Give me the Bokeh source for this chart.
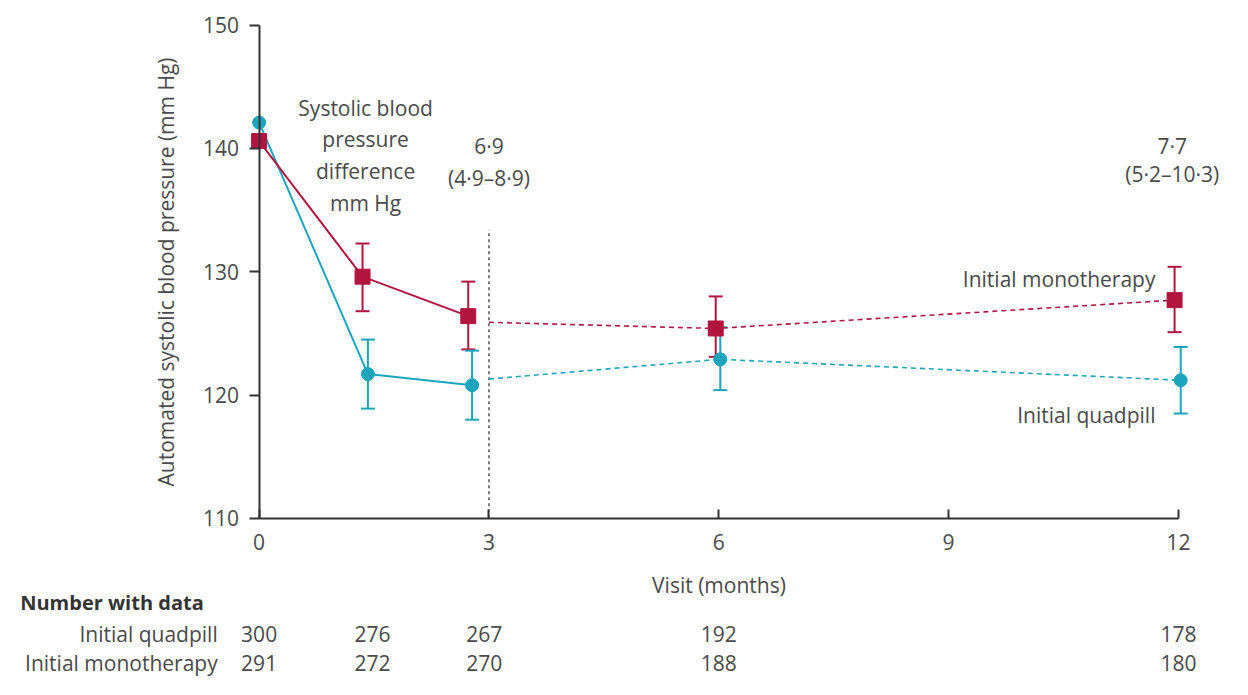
from bokeh.plotting import figure
from bokeh.models import ColumnDataSource, Whisker, TeeHead, LinearAxis, Range1d, FixedTicker
from bokeh.core.properties import value
from bokeh.embed import file_html
from bokeh.resources import INLINE

# ---- data ----
quad_x = [0, 1.42, 2.78, 6.02, 12.03]
mono_x = [0, 1.35, 2.73, 5.96, 11.95]
quad_mean = [142.1, 121.7, 120.8, 122.9, 121.2]
mono_mean = [140.6, 129.6, 126.4, 125.4, 127.7]
quad_lo = [None, 118.9, 118.0, 120.4, 118.5]
quad_hi = [None, 124.5, 123.6, 125.5, 123.9]
mono_lo = [None, 126.8, 123.7, 123.1, 125.1]
mono_hi = [None, 132.3, 129.2, 128.0, 130.4]
dash_start_x = 3
quad_dash_start = 121.3
mono_dash_start = 125.9
cutoff_top = 133.4

table_cols = [0, 1.48, 2.94, 6, 12]
n_quad = ["300", "276", "267", "192", "178"]
n_mono = ["291", "272", "270", "188", "180"]

x_ticks = [0, 3, 6, 9, 12]
y_ticks = [110, 120, 130, 140, 150]

TEAL = "#1aa5bd"
RED = "#b1153f"
TXT = "#4a4a4a"
FONT = "Open Sans"
FS = "21px"

p = figure(width=1232, height=679, x_range=Range1d(-3.376, 12.706),
           y_range=Range1d(96.93, 152.0), output_backend="svg",
           toolbar_location=None, x_axis_location=None, y_axis_location=None,
           min_border=0, outline_line_color=None, background_fill_color="white")
p.xgrid.visible = False
p.ygrid.visible = False

yax = LinearAxis(fixed_location=0, bounds=(110, 150), ticker=FixedTicker(ticks=y_ticks),
                 axis_label="Automated systolic blood pressure (mm Hg)")
xax = LinearAxis(fixed_location=110, bounds=(0, 12), ticker=FixedTicker(ticks=x_ticks),
                 axis_label="Visit (months)")
for ax in (yax, xax):
    ax.axis_line_color = "#333333"
    ax.axis_line_width = 2
    ax.major_tick_line_color = "#333333"
    ax.major_tick_line_width = 2
    ax.minor_tick_line_color = None
    ax.major_label_text_font = FONT
    ax.major_label_text_font_size = FS
    ax.major_label_text_color = TXT
    ax.axis_label_text_font = FONT
    ax.axis_label_text_font_size = FS
    ax.axis_label_text_font_style = "normal"
    ax.axis_label_text_color = TXT
yax.major_tick_in = 0
yax.major_tick_out = 10
yax.major_label_standoff = 10
yax.axis_label_standoff = 20
xax.major_tick_in = 9
xax.major_tick_out = 0
xax.major_label_standoff = 16
xax.axis_label_standoff = 17
p.add_layout(yax, "left")
p.add_layout(xax, "below")

# vertical dotted line at 3 months
p.segment(x0=[dash_start_x], y0=[110], x1=[dash_start_x], y1=[cutoff_top],
          line_color="#555555", line_width=1.5, line_dash="3 3")

# solid lines (first three visits)
p.line(quad_x[:3], quad_mean[:3], line_color=TEAL, line_width=2)
p.line(mono_x[:3], mono_mean[:3], line_color=RED, line_width=2)
# dashed lines (after 3 months)
p.line([dash_start_x] + quad_x[3:], [quad_dash_start] + quad_mean[3:], line_color=TEAL,
       line_width=1.6, line_dash="5 4")
p.line([dash_start_x] + mono_x[3:], [mono_dash_start] + mono_mean[3:], line_color=RED,
       line_width=1.6, line_dash="5 4")

# error bars
for xs, lo, hi, col in ((mono_x, mono_lo, mono_hi, RED), (quad_x, quad_lo, quad_hi, TEAL)):
    src = ColumnDataSource(dict(x=xs[1:], lo=lo[1:], hi=hi[1:]))
    w = Whisker(source=src, base="x", lower="lo", upper="hi", line_color=col, line_width=2,
                upper_head=TeeHead(size=14, line_color=col, line_width=2),
                lower_head=TeeHead(size=14, line_color=col, line_width=2))
    p.add_layout(w)

p.scatter(mono_x, mono_mean, marker="square", size=15, fill_color=RED, line_color=RED)
p.scatter(quad_x, quad_mean, marker="circle", size=13, fill_color=TEAL, line_color=TEAL)

tf = value(FONT)
# annotations
p.text(x=[1.39] * 4, y=[143.31, 140.73, 138.16, 135.58],
       text=["Systolic blood", "pressure", "difference", "mm Hg"],
       text_font=tf, text_font_size=FS, text_color=TXT,
       text_align="center", text_baseline="middle")
p.text(x=[3.0, 3.0, 11.92, 11.92], y=[140.19, 137.58, 140.23, 137.9],
       text=["6·9", "(4·9–8·9)", "7·7", "(5·2–10·3)"],
       text_font=tf, text_font_size=FS, text_color=TXT,
       text_align="center", text_baseline="middle")
p.text(x=[11.70, 11.70], y=[129.41, 118.40],
       text=["Initial monotherapy", "Initial quadpill"],
       text_font=tf, text_font_size=FS, text_color=TXT,
       text_align="right", text_baseline="middle")

# number-with-data table
ROW_Q = 100.6
ROW_M = 98.25
p.text(x=[-3.119], y=[103.2], text=["Number with data"], text_font=tf,
       text_font_size="20px", text_font_style="bold", text_color="#333333",
       text_align="left", text_baseline="middle")
p.text(x=[-0.541, -0.541], y=[ROW_Q, ROW_M],
       text=["Initial quadpill", "Initial monotherapy"], text_font=tf,
       text_font_size=FS, text_color=TXT, text_align="right", text_baseline="middle")
p.text(x=table_cols, y=[ROW_Q] * 5, text=n_quad, text_font=tf, text_font_size=FS,
       text_color=TXT, text_align="center", text_baseline="middle")
p.text(x=table_cols, y=[ROW_M] * 5, text=n_mono, text_font=tf, text_font_size=FS,
       text_color=TXT, text_align="center", text_baseline="middle")

open("out.html", "w").write(file_html(p, INLINE))
